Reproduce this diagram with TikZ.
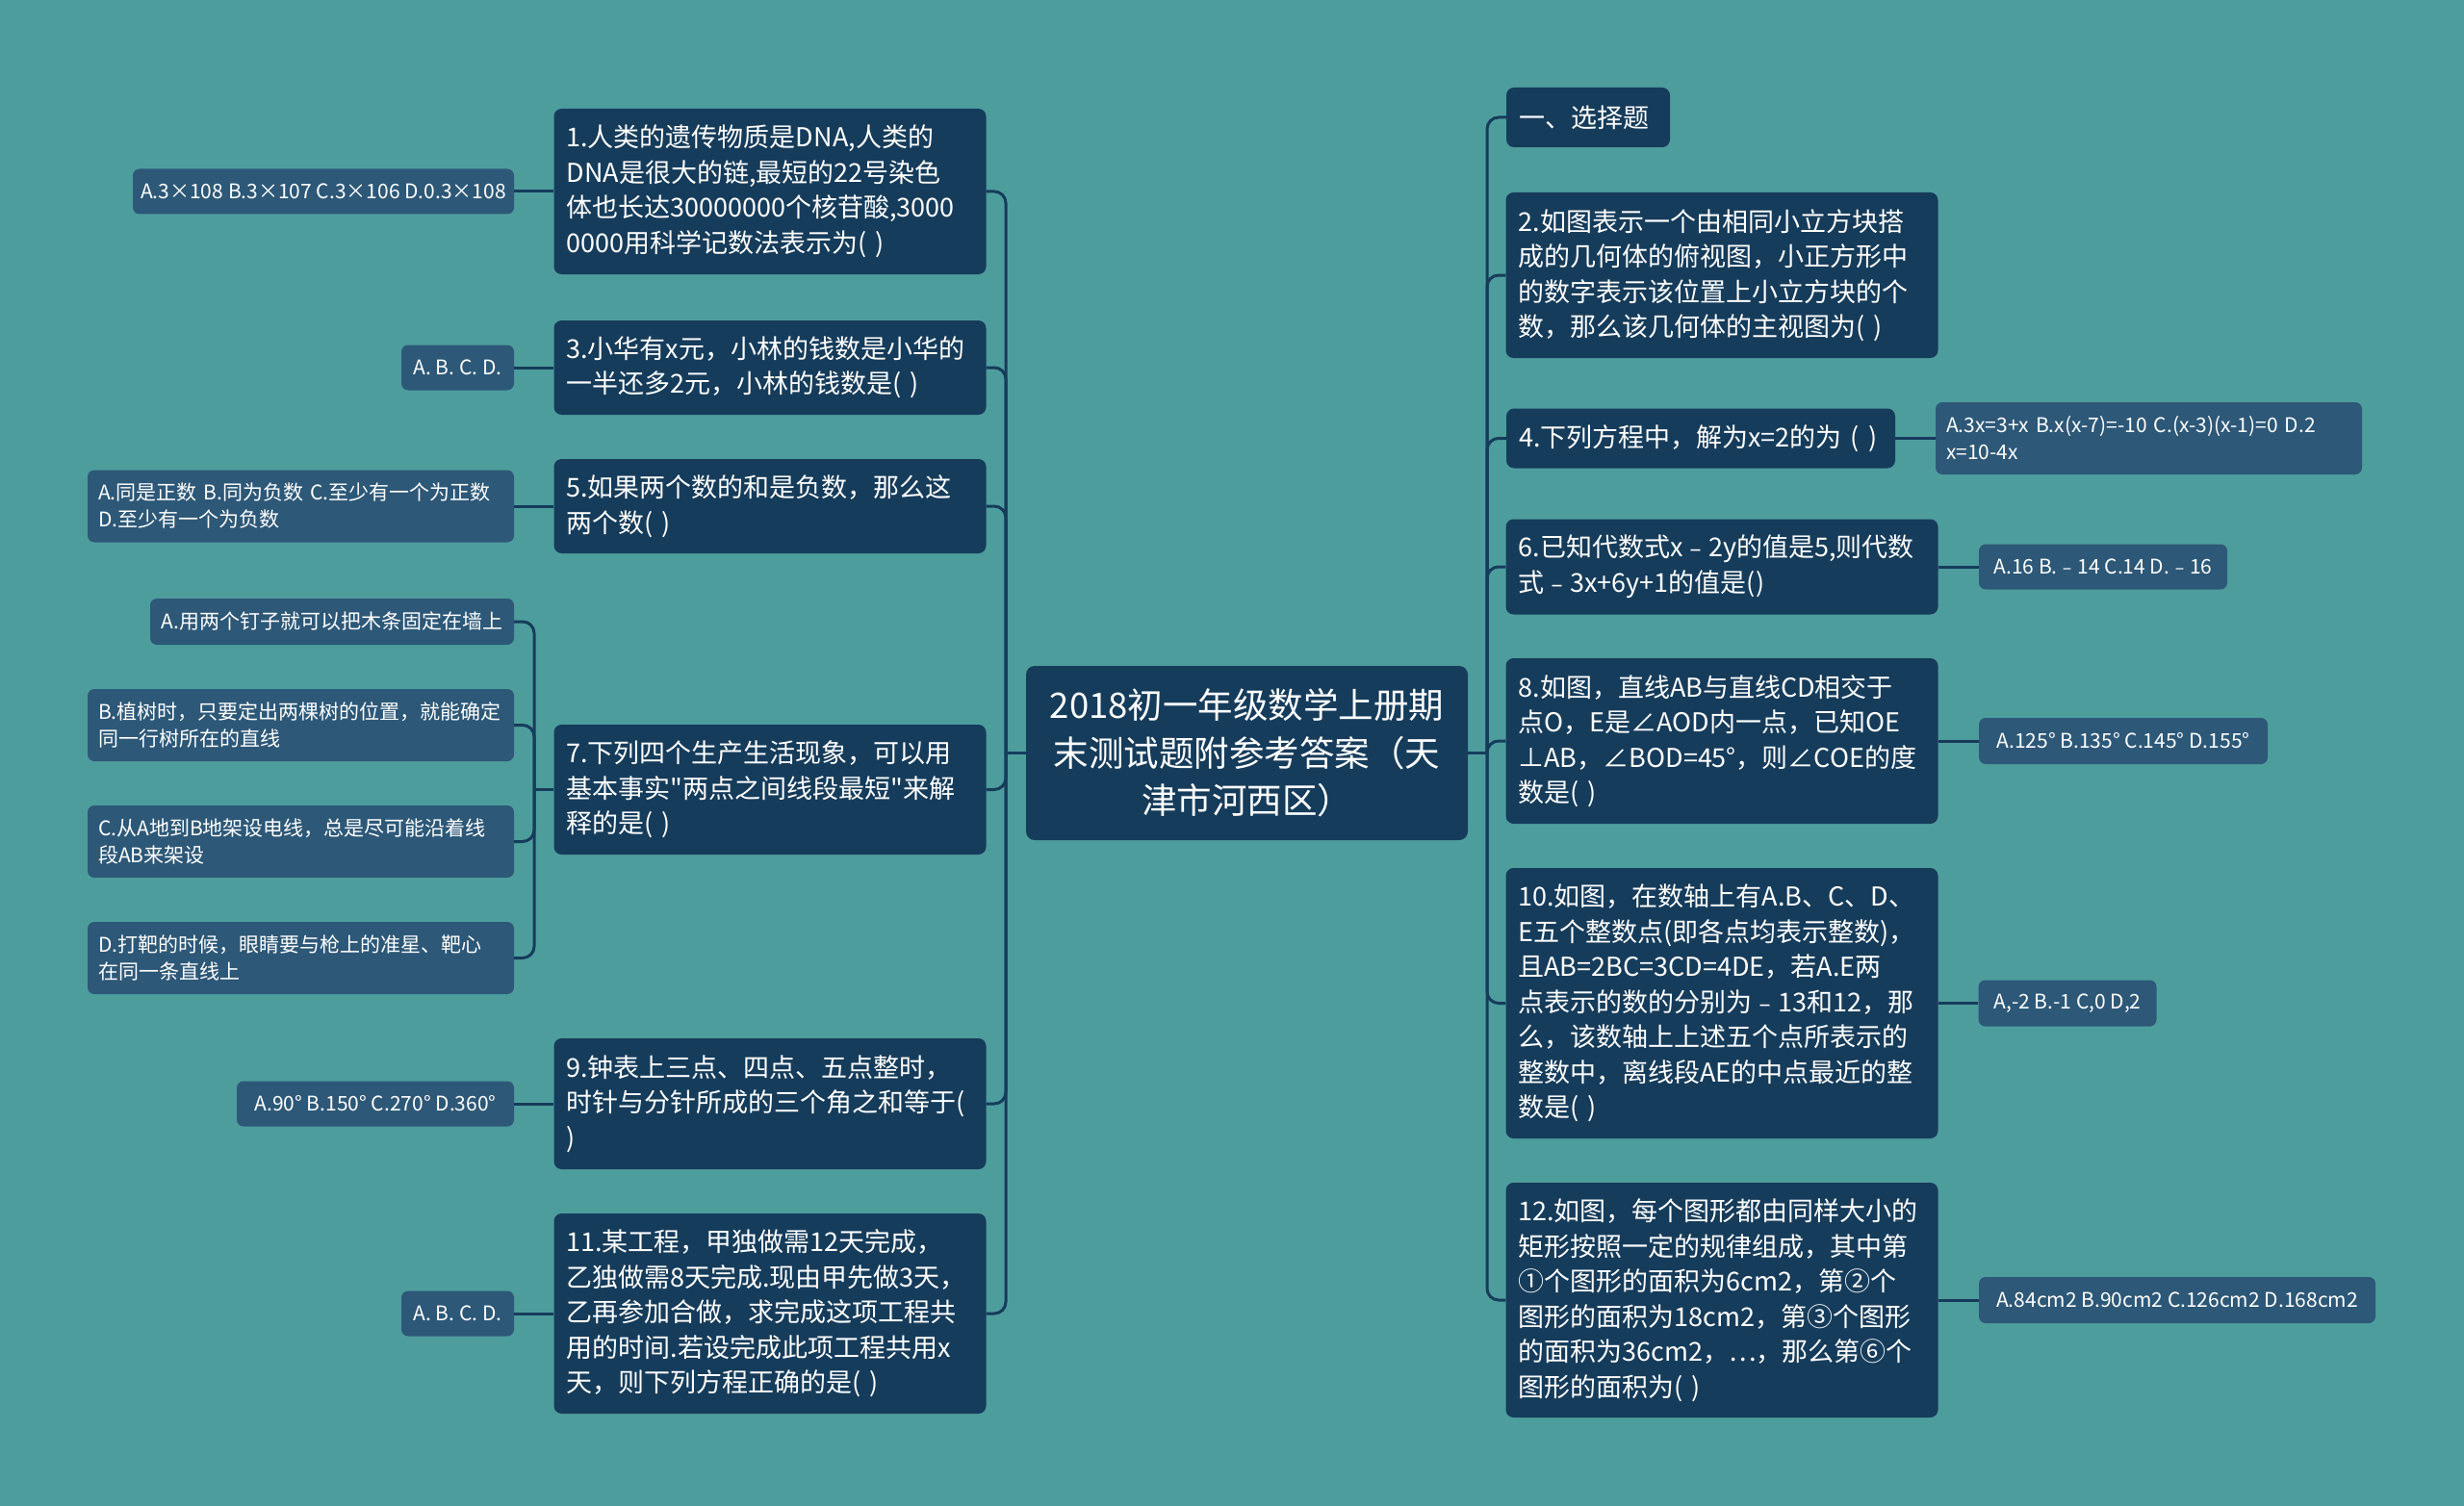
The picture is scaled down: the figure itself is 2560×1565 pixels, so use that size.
\documentclass[tikz,border=0pt]{standalone}
\usepackage{fontspec}
\setmainfont{Noto Sans CJK SC}[Ligatures=TeXOff]
\usepackage{tikz}
\definecolor{bgteal}{RGB}{78,157,157}
\definecolor{navy}{RGB}{22,60,91}
\definecolor{slate}{RGB}{45,88,120}

\begin{document}
\begin{tikzpicture}[x=1pt, y=-1pt,
    topic/.style = {fill=navy, rounded corners=9pt, text=white, align=center, inner sep=0pt, font=\fontsize{36.5}{49.5}\selectfont},
    sub/.style = {fill=navy, rounded corners=8pt, text=white, align=left, inner xsep=13pt, inner ysep=0pt, text width=423pt, font=\fontsize{27}{36.5}\selectfont},
    leaf/.style = {fill=slate, rounded corners=7pt, text=white, align=left, inner sep=0pt, minimum height=47pt, font=\fontsize{21}{28}\selectfont},
    wideleaf/.style = {leaf, inner xsep=11pt, text width=421pt, minimum height=75pt},
    link/.style = {draw=navy, line width=3pt, rounded corners=12pt}]
        \useasboundingbox (0, 0) rectangle (2560, 1565);
        \fill[bgteal] (0, 0) rectangle (2560, 1565);

        \node[topic, minimum width=459pt, minimum height=181pt] at (1295.5, 782.5) (title) {2018初一年级数学上册期\\末测试题附参考答案（天\\津市河西区）};

        \node[sub, minimum height=172pt] at (800, 199) (q1) {1.人类的遗传物质是DNA,人类的\\DNA是很大的链,最短的22号染色\\体也长达30000000个核苷酸,3000\\0000用科学记数法表示为( )};
        \node[sub, minimum height=98pt] at (800, 382) (q3) {3.小华有x元，小林的钱数是小华的\\一半还多2元，小林的钱数是( )};
        \node[sub, minimum height=98pt] at (800, 526) (q5) {5.如果两个数的和是负数，那么这\\两个数( )};
        \node[sub, minimum height=135pt] at (800, 820.5) (q7) {7.下列四个生产生活现象，可以用\\基本事实"两点之间线段最短"来解\\释的是( )};
        \node[sub, minimum height=136pt] at (800, 1147) (q9) {9.钟表上三点、四点、五点整时，\\时针与分针所成的三个角之和等于(\\)};
        \node[sub, minimum height=208pt] at (800, 1365) (q11) {11.某工程，甲独做需12天完成，\\乙独做需8天完成.现由甲先做3天，\\乙再参加合做，求完成这项工程共\\用的时间.若设完成此项工程共用x\\天，则下列方程正确的是( )};

        \node[sub, text width=144pt, minimum height=62pt] at (1650, 122) (sec) {一、选择题};
        \node[sub, minimum height=172pt] at (1789, 286) (q2) {2.如图表示一个由相同小立方块搭\\成的几何体的俯视图，小正方形中\\的数字表示该位置上小立方块的个\\数，那么该几何体的主视图为( )};
        \node[sub, text width=378pt, minimum height=62pt] at (1767, 455.5) (q4) {4.下列方程中，解为x=2的为 ( )};
        \node[sub, minimum height=99pt] at (1789, 589) (q6) {6.已知代数式x﹣2y的值是5,则代数\\式﹣3x+6y+1的值是()};
        \node[sub, minimum height=172pt] at (1789, 770) (q8) {8.如图，直线AB与直线CD相交于\\点O，E是∠AOD内一点，已知OE\\⊥AB，∠BOD=45°，则∠COE的度\\数是( )};
        \node[sub, minimum height=281pt] at (1789, 1042.5) (q10) {10.如图，在数轴上有A.B、C、D、\\E五个整数点(即各点均表示整数)，\\且AB=2BC=3CD=4DE，若A.E两\\点表示的数的分别为﹣13和12，那\\么，该数轴上上述五个点所表示的\\整数中，离线段AE的中点最近的整\\数是( )};
        \node[sub, minimum height=244pt] at (1789, 1351) (q12) {12.如图，每个图形都由同样大小的\\矩形按照一定的规律组成，其中第\\①个图形的面积为6cm2，第②个\\图形的面积为18cm2，第③个图形\\的面积为36cm2，…，那么第⑥个\\图形的面积为( )};

        \node[leaf, minimum width=396pt] at (336, 199) (a1) {A.3×108 B.3×107 C.3×106 D.0.3×108};
        \node[leaf, minimum width=117pt] at (475.5, 382) (a3) {A. B. C. D.};
        \node[wideleaf] at (312.5, 526) (a5) {A.同是正数 B.同为负数 C.至少有一个为正数\\D.至少有一个为负数};
        \node[leaf, minimum width=378pt, minimum height=48pt] at (345, 646) (a7a) {A.用两个钉子就可以把木条固定在墙上};
        \node[wideleaf] at (312.5, 753.5) (a7b) {B.植树时，只要定出两棵树的位置，就能确定\\同一行树所在的直线};
        \node[wideleaf] at (312.5, 874.5) (a7c) {C.从A地到B地架设电线，总是尽可能沿着线\\段AB来架设};
        \node[wideleaf] at (312.5, 995.5) (a7d) {D.打靶的时候，眼睛要与枪上的准星、靶心\\在同一条直线上};
        \node[leaf, minimum width=288pt] at (390, 1147) (a9) {A.90° B.150° C.270° D.360°};
        \node[leaf, minimum width=117pt] at (475.5, 1365) (a11) {A. B. C. D.};

        \node[wideleaf] at (2232.5, 455.5) (a4) {A.3x=3+x B.x(x-7)=-10 C.(x-3)(x-1)=0 D.2\\x=10-4x};
        \node[leaf, minimum width=258pt] at (2185, 589) (a6) {A.16 B.﹣14 C.14 D.﹣16};
        \node[leaf, minimum width=300pt, minimum height=48pt] at (2206, 770) (a8) {A.125° B.135° C.145° D.155°};
        \node[leaf, minimum width=185pt, minimum height=48pt] at (2148, 1042.5) (a10) {A,-2 B.-1 C,0 D,2};
        \node[leaf, minimum width=412pt, minimum height=48pt] at (2262, 1351) (a12) {A.84cm2 B.90cm2 C.126cm2 D.168cm2};

        \coordinate (jl) at (1045, 782.5);
        \coordinate (jr) at (1545, 782.5);
        \coordinate (j7) at (555, 820.5);

        \draw[link] (title.west) -- (jl);
        \draw[link] (title.east) -- (jr);
        \foreach \q in {q1, q3, q5, q7, q9, q11}
            \draw[link] (jl) |- (\q.east);
        \foreach \q in {sec, q2, q4, q6, q8, q10, q12}
            \draw[link] (jr) |- (\q.west);
        \draw[link] (q7.west) -- (j7);
        \foreach \a in {a7a, a7b, a7c, a7d}
            \draw[link] (j7) |- (\a.east);
        \foreach \a/\q in {a1/q1, a3/q3, a5/q5, a9/q9, a11/q11}
            \draw[link] (\a.east) -- (\q.west);
        \foreach \q/\a in {q4/a4, q6/a6, q8/a8, q10/a10, q12/a12}
            \draw[link] (\q.east) -- (\a.west);
\end{tikzpicture}
\end{document}
